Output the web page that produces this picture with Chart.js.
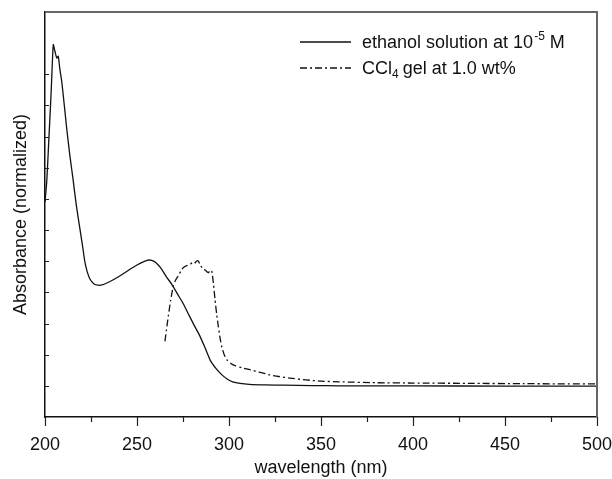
<!DOCTYPE html>
<html lang="en">
<head>
  <meta charset="UTF-8">
  <title>Absorbance spectra</title>
  <script src="https://cdn.jsdelivr.net/npm/chart.js"></script>
  <style>
    body { margin: 0; background: #fff; }
    #wrap { width: 612px; height: 479px; }
  </style>
</head>
<body>
  <div id="wrap"><canvas id="chart" width="612" height="479"></canvas></div>
  <script>
    // ethanol solution (solid line)
    const ethWl = [200, 201, 202, 203, 203.6, 204.5, 205.4, 206.4, 207.2, 208, 209.1, 210.5, 211.8, 213.5, 215.2, 217, 219, 220.5, 221.7, 223, 224.5, 226.5, 228.8, 231, 235.3, 240, 244.6, 250, 255.4, 258, 260, 263, 266, 269, 272, 275, 278, 281, 284, 287, 290, 293, 296, 299, 302, 306, 311, 320, 330, 345, 360, 380, 400, 450, 500];
    const ethAbs = [6.9, 7.6, 8.8, 10.0, 10.8, 11.95, 11.74, 11.52, 11.58, 11.2, 10.77, 10.0, 9.26, 8.4, 7.65, 6.8, 6.03, 5.45, 4.97, 4.65, 4.42, 4.28, 4.23, 4.24, 4.35, 4.5, 4.68, 4.88, 5.03, 5.03, 4.97, 4.78, 4.5, 4.25, 3.95, 3.65, 3.3, 2.95, 2.62, 2.22, 1.8, 1.55, 1.36, 1.22, 1.13, 1.08, 1.05, 1.03, 1.02, 1.01, 1.0, 1.0, 1.0, 0.99, 0.99];

    // CCl4 gel (dash-dot line)
    const gelWl = [265.2, 266, 267, 268.3, 269.7, 271, 272.4, 273.8, 275.2, 277, 278.8, 280, 281.2, 282.3, 283.3, 284.2, 285, 286, 287, 288, 288.8, 289.7, 290.6, 291.5, 292.4, 293.3, 294.2, 295.1, 296, 297.4, 298.8, 301, 303.3, 307, 311.4, 317, 322.3, 327, 333, 342, 350, 360, 380, 400, 430, 460, 500];
    const gelAbs = [2.43, 2.8, 3.23, 3.75, 4.2, 4.4, 4.53, 4.68, 4.8, 4.86, 4.9, 4.95, 4.93, 5.0, 5.01, 4.9, 4.82, 4.74, 4.72, 4.66, 4.63, 4.7, 4.69, 4.3, 3.77, 3.3, 2.91, 2.55, 2.27, 2.0, 1.84, 1.72, 1.65, 1.58, 1.52, 1.43, 1.35, 1.3, 1.25, 1.19, 1.15, 1.13, 1.1, 1.09, 1.08, 1.07, 1.06];

    const xMajor = [200, 250, 300, 350, 400, 450, 500];
    const xMinor = [225, 275, 325, 375, 425, 475];
    const yTicks = [1, 2, 3, 4, 5, 6, 7, 8, 9, 10, 11];

    const FONT = "'Liberation Sans', Arial, sans-serif";

    const toPts = (xs, ys) => xs.map((x, i) => ({ x: x, y: ys[i] }));

    // frame, inward y ticks, outward x ticks, legend with sub/superscripts
    const decor = {
      id: "decor",
      afterDraw(chart) {
        const c = chart.ctx;
        const a = chart.chartArea;
        const xs = chart.scales.x, ys = chart.scales.y;
        c.save();
        c.strokeStyle = "#666";
        c.lineWidth = 2;
        c.beginPath();
        c.moveTo(a.left, a.top);
        c.lineTo(a.right, a.top);
        c.lineTo(a.right, a.bottom);
        c.stroke();

        c.strokeStyle = "#222";
        c.lineWidth = 1.2;
        c.beginPath();
        xMajor.forEach(v => {
          const px = Math.round(xs.getPixelForValue(v)) + 0.5;
          c.moveTo(px, a.bottom); c.lineTo(px, a.bottom + 9);
        });
        xMinor.forEach(v => {
          const px = Math.round(xs.getPixelForValue(v)) + 0.5;
          c.moveTo(px, a.bottom); c.lineTo(px, a.bottom + 5);
        });
        yTicks.forEach(v => {
          const py = Math.round(ys.getPixelForValue(v)) + 0.5;
          c.moveTo(a.left, py); c.lineTo(a.left + 4, py);
        });
        c.stroke();

        // legend
        c.strokeStyle = "#111";
        c.lineWidth = 1.3;
        c.beginPath();
        c.moveTo(300, 42); c.lineTo(351, 42);
        c.stroke();
        c.setLineDash([7, 3, 2, 3]);
        c.beginPath();
        c.moveTo(300, 68); c.lineTo(351, 68);
        c.stroke();
        c.setLineDash([]);

        c.fillStyle = "#111";
        c.textBaseline = "alphabetic";
        c.textAlign = "left";
        const big = "18px " + FONT, small = "12px " + FONT;
        let x = 362;
        c.font = big;
        c.fillText("ethanol solution at 10", x, 48);
        x += c.measureText("ethanol solution at 10").width + 1;
        c.font = small;
        c.fillText("-5", x, 40);
        x += c.measureText("-5").width + 5;
        c.font = big;
        c.fillText("M", x, 48);

        x = 362;
        c.fillText("CCl", x, 74);
        x += c.measureText("CCl").width;
        c.font = small;
        c.fillText("4", x, 78);
        x += c.measureText("4").width + 4;
        c.font = big;
        c.fillText("gel at 1.0 wt%", x, 74);
        c.restore();
      }
    };

    new Chart(document.getElementById("chart").getContext("2d"), {
      type: "scatter",
      data: {
        datasets: [
          {
            label: "ethanol solution at 10-5 M",
            data: toPts(ethWl, ethAbs),
            showLine: true,
            pointRadius: 0,
            borderColor: "#111",
            borderWidth: 1.3,
            tension: 0.2
          },
          {
            label: "CCl4 gel at 1.0 wt%",
            data: toPts(gelWl, gelAbs),
            showLine: true,
            pointRadius: 0,
            borderColor: "#111",
            borderWidth: 1.3,
            borderDash: [7, 3, 2, 3],
            tension: 0.2
          }
        ]
      },
      options: {
        responsive: false,
        animation: false,
        layout: { padding: { top: 12, right: 15, left: 0, bottom: 0 } },
        plugins: {
          legend: { display: false },
          tooltip: { enabled: false }
        },
        scales: {
          x: {
            type: "linear",
            min: 200,
            max: 500,
            afterFit: s => { s.height = 62; s.paddingLeft = 0; s.paddingRight = 0; },
            grid: { display: false },
            border: { display: true, color: "#111", width: 1.5 },
            ticks: {
              stepSize: 50,
              padding: 9,
              color: "#111",
              font: { family: FONT, size: 18 }
            },
            title: {
              display: true,
              text: "wavelength (nm)",
              color: "#111",
              padding: { top: 0, bottom: 0 },
              font: { family: FONT, size: 18 }
            }
          },
          y: {
            min: 0,
            max: 13,
            afterFit: s => { s.width = 45; s.paddingTop = 0; s.paddingBottom = 0; },
            grid: { display: false },
            border: { display: true, color: "#111", width: 1.5 },
            ticks: { display: false, stepSize: 1 },
            title: {
              display: true,
              text: "Absorbance (normalized)",
              color: "#111",
              padding: { top: 10, bottom: 0 },
              font: { family: FONT, size: 18 }
            }
          }
        }
      },
      plugins: [decor]
    });
  </script>
</body>
</html>
